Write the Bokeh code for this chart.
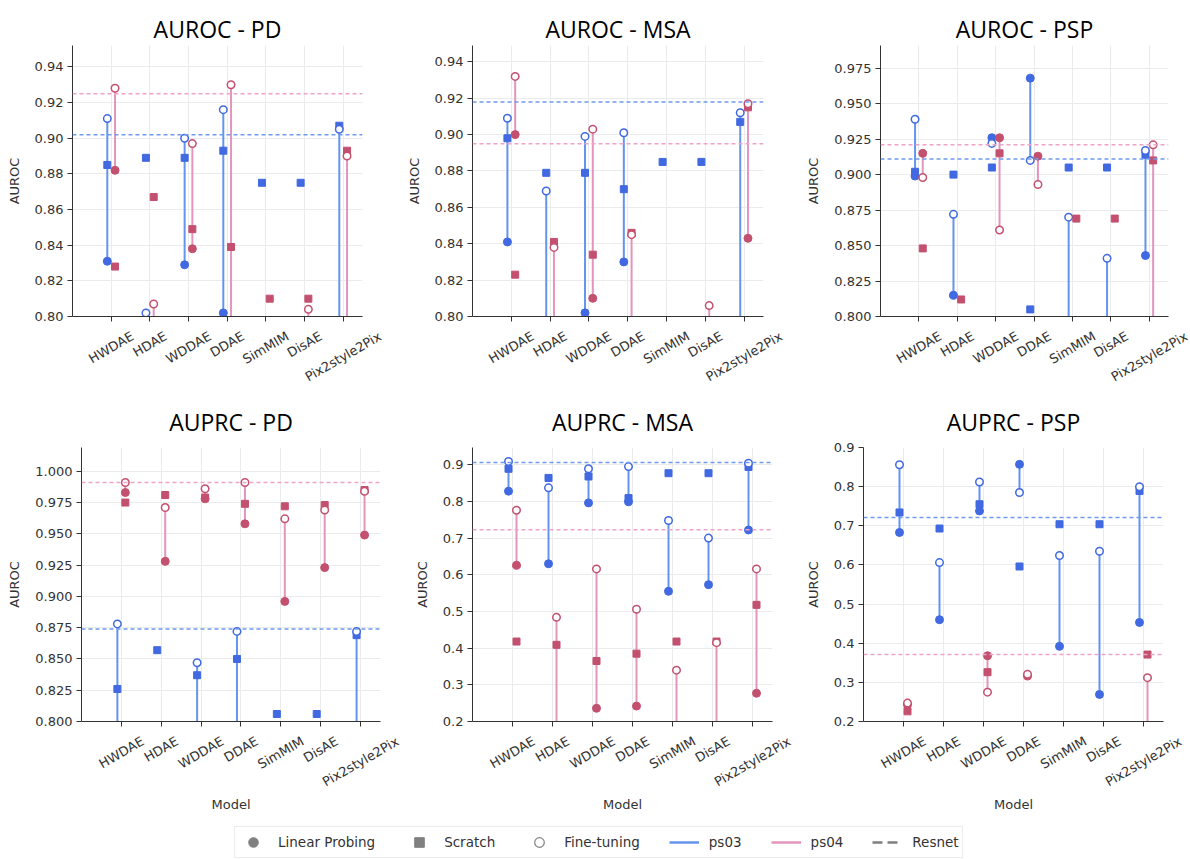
import math
import numpy as np
from bokeh.plotting import figure
from bokeh.layouts import column, row
from bokeh.models import (Range1d, FixedTicker, PrintfTickFormatter, Span,
                          Legend, LegendItem, ColumnDataSource, CustomJSTickFormatter)
from bokeh.core.properties import value
from bokeh.embed import file_html
from bokeh.resources import INLINE

# ---------------- data ----------------
models = ["HWDAE", "HDAE", "WDDAE", "DDAE", "SimMIM", "DisAE", "Pix2style2Pix"]

# AUROC - PD
auroc_pd_ps03_lp = [0.831, 0.78, 0.829, 0.802, None, None, 0.78]
auroc_pd_ps03_sc = [0.885, 0.889, 0.889, 0.893, 0.875, 0.875, 0.907]
auroc_pd_ps03_ft = [0.911, 0.802, 0.900, 0.916, None, None, 0.905]
auroc_pd_ps04_lp = [0.882, 0.78, 0.838, 0.78, None, 0.78, 0.78]
auroc_pd_ps04_sc = [0.828, 0.867, 0.849, 0.839, 0.810, 0.810, 0.893]
auroc_pd_ps04_ft = [0.928, 0.807, 0.897, 0.930, None, 0.804, 0.890]
auroc_pd_resnet = [0.902, 0.925]

# AUROC - MSA
auroc_msa_ps03_lp = [0.841, 0.78, 0.802, 0.830, None, None, 0.78]
auroc_msa_ps03_sc = [0.898, 0.879, 0.879, 0.870, 0.885, 0.885, 0.907]
auroc_msa_ps03_ft = [0.909, 0.869, 0.899, 0.901, None, None, 0.912]
auroc_msa_ps04_lp = [0.900, 0.78, 0.810, 0.78, None, 0.78, 0.843]
auroc_msa_ps04_sc = [0.823, 0.841, 0.834, 0.846, None, None, 0.915]
auroc_msa_ps04_ft = [0.932, 0.838, 0.903, 0.845, None, 0.806, 0.917]
auroc_msa_resnet = [0.918, 0.895]

# AUROC - PSP
auroc_psp_ps03_lp = [0.899, 0.815, 0.926, 0.968, 0.78, 0.78, 0.843]
auroc_psp_ps03_sc = [0.902, 0.900, 0.905, 0.805, 0.905, 0.905, 0.914]
auroc_psp_ps03_ft = [0.939, 0.872, 0.922, 0.910, 0.870, 0.841, 0.917]
auroc_psp_ps04_lp = [0.915, None, 0.926, 0.913, None, None, 0.78]
auroc_psp_ps04_sc = [0.848, 0.812, 0.915, None, 0.869, 0.869, 0.910]
auroc_psp_ps04_ft = [0.898, None, 0.861, 0.893, None, None, 0.921]
auroc_psp_resnet = [0.911, 0.921]

# AUPRC - PD
auprc_pd_ps03_lp = [0.78, None, 0.78, 0.78, None, None, 0.78]
auprc_pd_ps03_sc = [0.826, 0.857, 0.837, 0.850, 0.806, 0.806, 0.869]
auprc_pd_ps03_ft = [0.878, None, 0.847, 0.872, None, None, 0.872]
auprc_pd_ps04_lp = [0.983, 0.928, 0.978, 0.958, 0.896, 0.923, 0.949]
auprc_pd_ps04_sc = [0.975, 0.981, 0.979, 0.974, 0.972, 0.973, 0.985]
auprc_pd_ps04_ft = [0.991, 0.971, 0.986, 0.991, 0.962, 0.969, 0.984]
auprc_pd_resnet = [0.874, 0.991]

# AUPRC - MSA
auprc_msa_ps03_lp = [0.828, 0.630, 0.796, 0.799, 0.555, 0.573, 0.722]
auprc_msa_ps03_sc = [0.889, 0.864, 0.868, 0.809, 0.877, 0.877, 0.894]
auprc_msa_ps03_ft = [0.909, 0.837, 0.889, 0.895, 0.748, 0.700, 0.904]
auprc_msa_ps04_lp = [0.626, 0.15, 0.236, 0.242, 0.15, 0.15, 0.277]
auprc_msa_ps04_sc = [0.418, 0.409, 0.365, 0.385, 0.418, 0.418, 0.518]
auprc_msa_ps04_ft = [0.776, 0.484, 0.616, 0.506, 0.340, 0.415, 0.616]
auprc_msa_resnet = [0.906, 0.723]

# AUPRC - PSP
auprc_psp_ps03_lp = [0.683, 0.460, 0.738, 0.857, 0.392, 0.269, 0.453]
auprc_psp_ps03_sc = [0.734, 0.693, 0.755, 0.596, 0.704, 0.704, 0.789]
auprc_psp_ps03_ft = [0.856, 0.606, 0.812, 0.785, 0.624, 0.635, 0.800]
auprc_psp_ps04_lp = [0.243, None, 0.368, 0.316, None, None, 0.15]
auprc_psp_ps04_sc = [0.226, None, 0.326, None, None, None, 0.371]
auprc_psp_ps04_ft = [0.247, None, 0.275, 0.321, None, None, 0.312]
auprc_psp_resnet = [0.721, 0.371]

ticks_auroc_2 = [0.80, 0.82, 0.84, 0.86, 0.88, 0.90, 0.92, 0.94]
ticks_auroc_3 = [0.800, 0.825, 0.850, 0.875, 0.900, 0.925, 0.950, 0.975]
ticks_auprc_pd = [0.800, 0.825, 0.850, 0.875, 0.900, 0.925, 0.950, 0.975, 1.000]
ticks_auprc_1 = [0.2, 0.3, 0.4, 0.5, 0.6, 0.7, 0.8, 0.9]

# ---------------- style ----------------
BLUE_LINE = "#6495ED"
BLUE_MK = "#4169E1"
PINK_LINE = "#E495BE"
PINK_MK = "#C4506F"
BLUE_DASH = "#6F9BEE"
PINK_DASH = "#EFA3C8"
GRID = "#ebebeb"
AX = "#333333"
TICK_FONT = "DejaVu Sans"

# DejaVu Sans advance widths (em) for label box estimation
CW = {'H': 0.752, 'W': 0.989, 'D': 0.770, 'A': 0.684, 'E': 0.632, 'S': 0.635,
      'i': 0.278, 'm': 0.974, 'M': 0.863, 'I': 0.295, 's': 0.521, 'P': 0.603,
      'x': 0.592, '2': 0.636, 't': 0.392, 'y': 0.592, 'l': 0.278, 'e': 0.615}

BB = 10        # bottom border of the main plot (room for ticks)
TOP_GAP = 12   # distance from axis to top of rotated label box


def arr(v):
    return np.array([np.nan if a is None else a for a in v], dtype=float)


def strip(fw, fh, bl, br, xr):
    s = figure(frame_width=fw, frame_height=fh, min_border_left=bl, min_border_right=br,
               min_border_top=0, min_border_bottom=0, x_range=xr, y_range=Range1d(0, fh),
               x_axis_type=None, y_axis_type=None, toolbar_location=None,
               output_backend="svg")
    s.outline_line_color = None
    return s


def make_panel(title, data, resnet, ylo, yhi, yticks, fmt, fw, fh, bl, br, bt, tb, hl,
               title_base, xlabel):
    # title strip
    th = bt - tb
    ts = strip(fw, th, bl, br, Range1d(-1, 6.5))
    ts.text(x=[2.75], y=[th - title_base], text=[title], text_align="center",
            text_baseline="alphabetic", text_font=value("Open Sans"),
            text_font_size=value("23px"), text_color="black")

    p = figure(frame_width=fw, frame_height=fh, min_border_left=bl, min_border_right=br,
               min_border_top=tb, min_border_bottom=BB,
               x_range=Range1d(-1, 6.5), y_range=Range1d(ylo, yhi),
               toolbar_location=None, output_backend="svg")
    p.outline_line_color = None

    xt = FixedTicker(ticks=list(range(len(models))))
    yt = FixedTicker(ticks=yticks)
    p.xaxis.ticker = xt
    p.xgrid.ticker = xt
    p.yaxis.ticker = yt
    p.ygrid.ticker = yt
    p.yaxis.formatter = PrintfTickFormatter(format=fmt)
    p.xaxis.formatter = CustomJSTickFormatter(code="return ''")
    for ax in (p.xaxis[0], p.yaxis[0]):
        ax.axis_line_color = AX
        ax.axis_line_width = 1
        ax.major_tick_line_color = AX
        ax.major_tick_out = 5
        ax.major_tick_in = 0
        ax.minor_tick_out = 0
        ax.minor_tick_in = 0
        ax.major_label_text_font = TICK_FONT
        ax.major_label_text_font_size = "13px"
        ax.major_label_text_color = AX
        ax.axis_label_text_font = TICK_FONT
        ax.axis_label_text_font_size = "13px"
        ax.axis_label_text_font_style = "normal"
        ax.axis_label_text_color = AX
    p.yaxis.major_label_standoff = 4
    p.yaxis.axis_label = "AUROC"
    p.yaxis.axis_label_standoff = 10
    p.xaxis.major_label_standoff = 0
    p.xaxis.major_label_text_font_size = "0px"
    p.xgrid.grid_line_color = GRID
    p.ygrid.grid_line_color = GRID

    xs = np.arange(len(models))
    for key, off, lc, mc in (("ps03", -0.1, BLUE_LINE, BLUE_MK),
                             ("ps04", 0.1, PINK_LINE, PINK_MK)):
        lp, sc, ft = data[key]
        src = ColumnDataSource(dict(x=xs + off, lp=arr(lp), sc=arr(sc), ft=arr(ft)))
        p.segment(x0="x", y0="lp", x1="x", y1="ft", source=src, line_color=lc, line_width=2)
        p.scatter("x", "lp", source=src, marker="circle", size=8, fill_color=mc, line_color=mc)
        p.scatter("x", "sc", source=src, marker="square", size=7, fill_color=mc, line_color=mc)
        p.scatter("x", "ft", source=src, marker="circle", size=7.5, fill_color="white",
                  line_color=mc, line_width=1.5)

    p.add_layout(Span(location=resnet[0], dimension="width", line_color=BLUE_DASH,
                      line_width=1.5, line_dash="4 3"))
    p.add_layout(Span(location=resnet[1], dimension="width", line_color=PINK_DASH,
                      line_width=1.5, line_dash="4 3"))

    # strip below the plot holding the rotated, centred category labels
    ppu = fw / 7.5
    lab = strip(fw + br, hl, bl, 0, Range1d(-1, 6.5 + br / ppu))
    fs = 13
    ly = []
    for m in models:
        w = sum(CW.get(c, 0.6) for c in m) * fs
        h = 1.164 * fs
        bh = w * math.sin(math.radians(30)) + h * math.cos(math.radians(30))
        ly.append(hl - (TOP_GAP - BB + bh / 2))
    lab.text(x=list(range(len(models))), y=ly, text=models, angle=30, angle_units="deg",
             text_align="center", text_baseline="middle", text_font=value(TICK_FONT),
             text_font_size=value("13px"), text_color=AX)
    if xlabel:
        lab.text(x=[2.75], y=[hl - (83 - BB)], text=["Model"], text_align="center",
                 text_baseline="middle", text_font=value(TICK_FONT),
                 text_font_size=value("13px"), text_color=AX)
    return column(ts, p, lab)


c1 = make_panel("AUROC - PD", {"ps03": (auroc_pd_ps03_lp, auroc_pd_ps03_sc, auroc_pd_ps03_ft),
                               "ps04": (auroc_pd_ps04_lp, auroc_pd_ps04_sc, auroc_pd_ps04_ft)},
                auroc_pd_resnet, 0.80, 0.952, ticks_auroc_2, "%.2f",
                290, 271, 72, 40, 45, 2, 64, 28, False)
c2 = make_panel("AUROC - MSA", {"ps03": (auroc_msa_ps03_lp, auroc_msa_ps03_sc, auroc_msa_ps03_ft),
                                "ps04": (auroc_msa_ps04_lp, auroc_msa_ps04_sc, auroc_msa_ps04_ft)},
                auroc_msa_resnet, 0.80, 0.949, ticks_auroc_2, "%.2f",
                291, 271, 70, 40, 45, 2, 64, 28, False)
c3 = make_panel("AUROC - PSP", {"ps03": (auroc_psp_ps03_lp, auroc_psp_ps03_sc, auroc_psp_ps03_ft),
                                "ps04": (auroc_psp_ps04_lp, auroc_psp_ps04_sc, auroc_psp_ps04_ft)},
                auroc_psp_resnet, 0.80, 0.991, ticks_auroc_3, "%.3f",
                288, 271, 64, 35, 45, 2, 64, 28, False)
c4 = make_panel("AUPRC - PD", {"ps03": (auprc_pd_ps03_lp, auprc_pd_ps03_sc, auprc_pd_ps03_ft),
                               "ps04": (auprc_pd_ps04_lp, auprc_pd_ps04_sc, auprc_pd_ps04_ft)},
                auprc_pd_resnet, 0.80, 1.019, ticks_auprc_pd, "%.3f",
                299, 274, 81, 30, 57, 8, 89, 31.7, True)
c5 = make_panel("AUPRC - MSA", {"ps03": (auprc_msa_ps03_lp, auprc_msa_ps03_sc, auprc_msa_ps03_ft),
                                "ps04": (auprc_msa_ps04_lp, auprc_msa_ps04_sc, auprc_msa_ps04_ft)},
                auprc_msa_resnet, 0.2, 0.947, ticks_auprc_1, "%.1f",
                300, 274, 62, 30, 57, 8, 89, 31.7, True)
c6 = make_panel("AUPRC - PSP", {"ps03": (auprc_psp_ps03_lp, auprc_psp_ps03_sc, auprc_psp_ps03_ft),
                                "ps04": (auprc_psp_ps04_lp, auprc_psp_ps04_sc, auprc_psp_ps04_ft)},
                auprc_psp_resnet, 0.2, 0.9, ticks_auprc_1, "%.1f",
                300, 274, 59, 29, 57, 8, 89, 31.7, True)

# ---------------- legend strip ----------------
leg = figure(width=1190, height=39, toolbar_location=None, output_backend="svg",
             x_axis_type=None, y_axis_type=None, min_border=0,
             x_range=Range1d(0, 1), y_range=Range1d(0, 1))
leg.outline_line_color = None
GRAY = "#808080"
nan = [np.nan]
r_lp = leg.scatter(x=nan, y=nan, marker="circle", fill_color=GRAY, line_color=GRAY)
r_sc = leg.scatter(x=nan, y=nan, marker="square", fill_color=GRAY, line_color=GRAY)
r_ft = leg.scatter(x=nan, y=nan, marker="circle", fill_color="white", line_color=GRAY,
                   line_width=1.2)
r_b = leg.line(x=nan, y=nan, line_color=BLUE_LINE, line_width=2.5)
r_p = leg.line(x=nan, y=nan, line_color=PINK_LINE, line_width=2.5)
r_r = leg.line(x=nan, y=nan, line_color=GRAY, line_width=2.5, line_dash="10 5")
legend = Legend(items=[LegendItem(label="Linear Probing", renderers=[r_lp]),
                       LegendItem(label="Scratch", renderers=[r_sc]),
                       LegendItem(label="Fine-tuning", renderers=[r_ft]),
                       LegendItem(label="ps03", renderers=[r_b]),
                       LegendItem(label="ps04", renderers=[r_p]),
                       LegendItem(label="Resnet", renderers=[r_r])],
                orientation="horizontal", location=(234, 1),
                glyph_width=30, glyph_height=24, label_standoff=10, spacing=29,
                padding=3, margin=0, border_line_color="#d9d9d9", border_line_width=1,
                background_fill_color="white", background_fill_alpha=1.0,
                label_text_font=TICK_FONT, label_text_font_size="13.5px",
                label_text_color=AX)
leg.add_layout(legend)

layout = column(row(c1, c2, c3), row(c4, c5, c6), leg)
open("out.html", "w").write(file_html(layout, INLINE))
